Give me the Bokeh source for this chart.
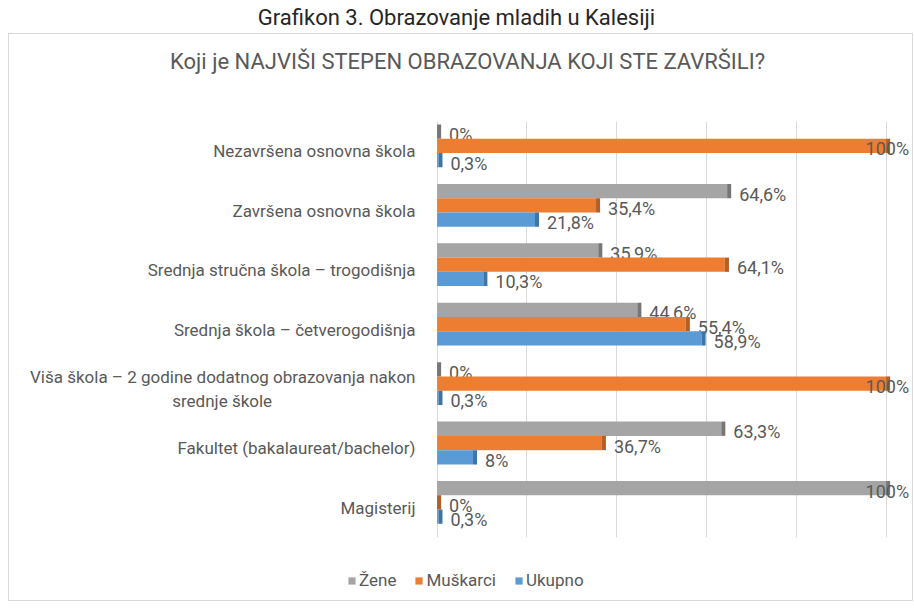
from bokeh.plotting import figure
from bokeh.models import (FactorRange, Range1d, ColumnDataSource, Legend, LegendItem,
                          FixedTicker, Div)
from bokeh.transform import dodge
from bokeh.layouts import column
from bokeh.core.properties import value
from bokeh.embed import file_html
from bokeh.resources import INLINE

categories = [
    "Nezavršena osnovna škola",
    "Završena osnovna škola",
    "Srednja stručna škola – trogodišnja",
    "Srednja škola – četverogodišnja",
    "Viša škola – 2 godine dodatnog obrazovanja nakon\nsrednje škole" + "\u00a0" * 34,
    "Fakultet (bakalaureat/bachelor)",
    "Magisterij",
]
zene = [0, 64.6, 35.9, 44.6, 0, 63.3, 100]
muskarci = [100, 35.4, 64.1, 55.4, 100, 36.7, 0]
ukupno = [0.3, 21.8, 10.3, 58.9, 0.3, 8, 0.3]
series_names = ["Žene", "Muškarci", "Ukupno"]
grid_ticks = [0, 20, 40, 60, 80, 100]
main_title = "Grafikon 3. Obrazovanje mladih u Kalesiji"
chart_title = "Koji je NAJVIŠI STEPEN OBRAZOVANJA KOJI STE ZAVRŠILI?"

FONT = "Roboto"
colors = ["#A5A5A5", "#ED7D31", "#5B9BD5"]
side_colors = ["#767676", "#B45F26", "#3F74A8"]
shift = 0.09
offsets = [0.24 + shift, shift, -0.24 + shift]
TXT = "#595959"
BOXW = 903
LEFT = 424


def fmt(v):
    return f"{v:g}".replace(".", ",") + "%"


p = figure(y_range=FactorRange(*categories[::-1], range_padding=0),
           x_range=Range1d(-0.8, -0.8 + (BOXW - LEFT) / 4.49),
           frame_width=BOXW - LEFT, frame_height=416,
           min_border_left=LEFT, min_border_right=0,
           min_border_top=29, min_border_bottom=1,
           x_axis_location=None, toolbar_location=None, output_backend="svg",
           title=None, outline_line_color=None,
           background_fill_color="white", border_fill_color="white")
p.frame_align = False

p.xgrid.ticker = FixedTicker(ticks=grid_ticks)
p.xgrid.grid_line_color = "#D9D9D9"
p.ygrid.grid_line_color = None

ax = p.yaxis[0]
ax.axis_line_color = None
ax.major_tick_line_color = None
ax.major_tick_out = 0
ax.major_tick_in = 0
ax.major_label_standoff = 18
ax.major_label_text_font = FONT
ax.major_label_text_font_size = "17px"
ax.major_label_text_color = TXT

sources = []
for name, vals, c, sc, off in zip(series_names, [zene, muskarci, ukupno],
                                  colors, side_colors, offsets):
    src = ColumnDataSource(dict(
        cat=categories,
        v=vals,
        end=[v + 0.9 for v in vals],
        lab=[fmt(v) for v in vals],
        xo=[23 if v >= 95 else 12 for v in vals],
        al=["right" if v >= 95 else "left" for v in vals],
    ))
    sources.append(src)
    yd = dodge("cat", off, range=p.y_range)
    p.hbar(y=yd, left=0, right="v", height=0.24, source=src,
           fill_color=c, line_color=None)
    p.hbar(y=yd, left="v", right="end", height=0.24, source=src,
           fill_color=sc, line_color=None)
    p.text(x="v", y=yd, text="lab", source=src, x_offset="xo", y_offset=3,
           text_align="al", text_baseline="middle", text_font=value(FONT),
           text_font_size="18px", text_color=TXT)

# legend row: same series as hidden renderers, only the legend shows
lf = figure(width=BOXW, height=62, x_range=Range1d(0, 105),
            y_range=FactorRange(*categories),
            x_axis_location=None, y_axis_location=None, min_border=0,
            toolbar_location=None, output_backend="svg", outline_line_color=None,
            background_fill_color="white", border_fill_color="white")
lf.frame_align = False
lf.grid.visible = False
items = []
for name, c, src in zip(series_names, colors, sources):
    r = lf.hbar(y="cat", left=0, right="v", height=0.5, source=src,
                fill_color=c, line_color=None, visible=False)
    items.append(LegendItem(label=name, renderers=[r]))
legend = Legend(items=items, orientation="horizontal", location=(338, 10),
                glyph_width=9, glyph_height=9, label_text_font=FONT,
                label_text_font_size="17px", label_text_color=TXT,
                border_line_color=None, background_fill_alpha=0,
                inactive_fill_alpha=0,
                padding=0, margin=0, spacing=18, label_standoff=3)
lf.add_layout(legend)

title_div = Div(
    text=(f'<div style="margin-left:161px;font-family:{FONT};'
          f'font-size:22px;color:{TXT};line-height:26px;padding-top:15px;'
          f'white-space:nowrap">{chart_title}</div>'),
    width=BOXW, height=58, margin=0)

box = column(title_div, p, lf, spacing=0, margin=(0, 0, 0, 8),
             styles={"border": "1px solid #D9D9D9"})

head = Div(text=main_title, width=BOXW + 2, height=27, margin=(6, 0, 0, 4),
           styles={"text-align": "center", "font-family": FONT, "font-size": "22px",
                   "color": "#262626", "line-height": "24px"})

layout = column(head, box, spacing=0)
open("out.html", "w").write(file_html(layout, INLINE))
